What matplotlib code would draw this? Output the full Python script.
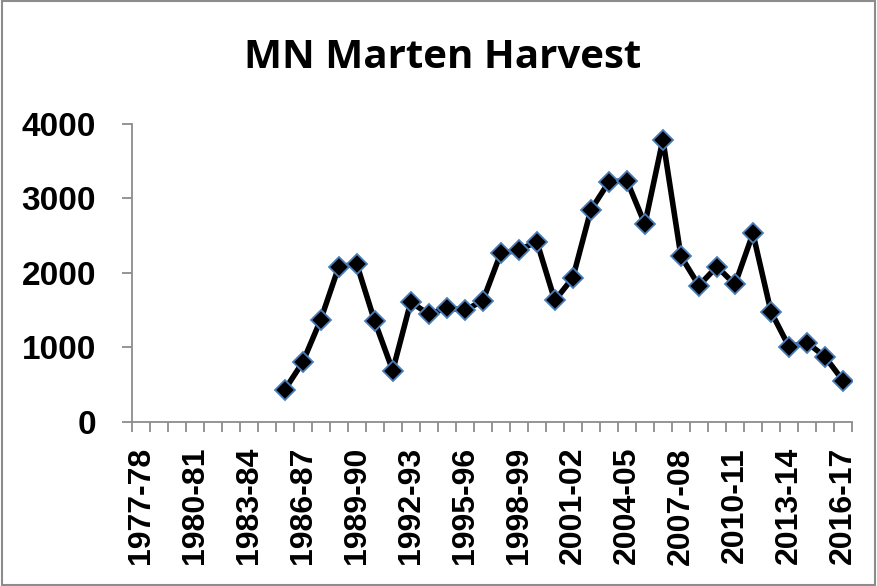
import matplotlib.pyplot as plt
import numpy as np

seasons = ['%d-%02d' % (y, (y + 1) % 100) for y in range(1977, 2017)]
harvest = [np.nan] * 8 + [
    430, 800, 1370, 2080, 2120, 1350, 690, 1610, 1445, 1530, 1500, 1625,
    2265, 2305, 2420, 1630, 1935, 2845, 3220, 3240, 2655, 3790, 2225, 1830,
    2085, 1845, 2530, 1480, 1010, 1065, 875, 555]
yticks = [0, 1000, 2000, 3000, 4000]

grey = '#8c8c8c'
fig = plt.figure(figsize=(8.77, 5.86), dpi=100)
ax = fig.add_axes([0.150, 0.280, 0.8215, 0.5085])

x = np.arange(len(seasons))
ax.plot(x, harvest, color='black', linewidth=4, marker='D', markersize=10,
        markerfacecolor='black', markeredgecolor='#4a7ebb', markeredgewidth=1.3)

ax.set_xlim(-0.5, len(seasons) - 0.5)
ax.set_ylim(0, 4000)
ax.set_yticks(yticks)
ax.set_yticklabels([str(v) for v in yticks], fontfamily='Liberation Sans',
                   fontweight='bold', fontsize=24)
ax.tick_params(axis='y', length=7.5, width=1.3, color=grey, pad=18)

ax.set_xticks(x[::3])
ax.set_xticklabels(seasons[::3], rotation=90, fontfamily='Liberation Sans',
                   fontweight='bold', fontsize=23)
ax.set_xticks(np.arange(-0.5, len(seasons)), minor=True)
ax.tick_params(axis='x', which='major', length=0, pad=18)
ax.tick_params(axis='x', which='minor', length=7.5, width=1.3, color=grey)

for s in ['top', 'right']:
    ax.spines[s].set_visible(False)
for s in ['left', 'bottom']:
    ax.spines[s].set_color(grey)
    ax.spines[s].set_linewidth(1.3)

fig.text(0.505, 0.902, 'MN Marten Harvest', ha='center', va='center',
         fontfamily='Open Sans', fontweight='bold', fontsize=29)

fig.patches.append(plt.Rectangle((0.002, 0.002), 0.996, 0.996,
                                 transform=fig.transFigure, fill=False,
                                 edgecolor=grey, linewidth=1.5))
fig.savefig('out.png')
